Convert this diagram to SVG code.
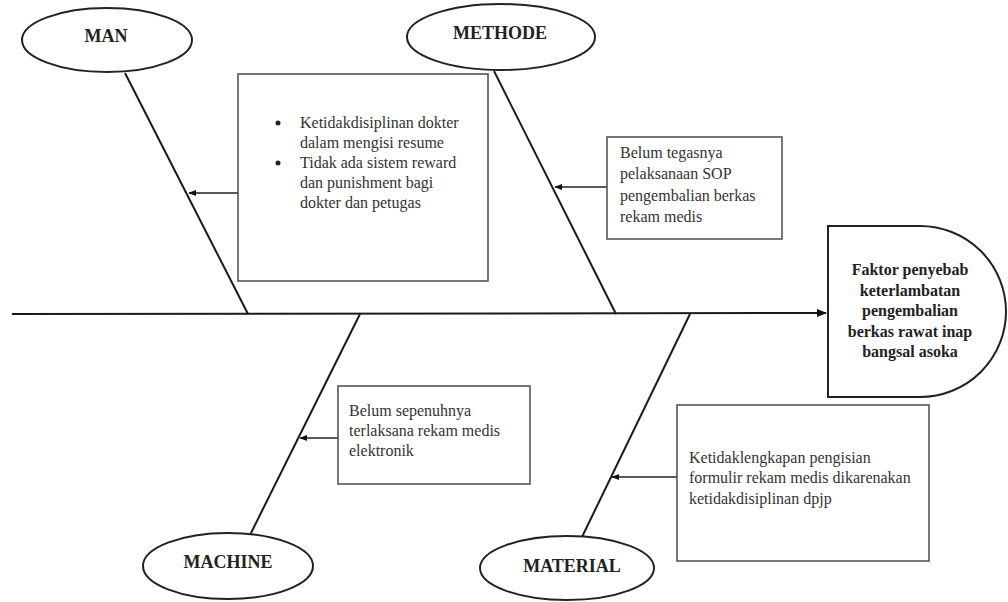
<svg xmlns="http://www.w3.org/2000/svg" width="1008" height="602" viewBox="0 0 1008 602">
<style>
.bone{stroke:#1a1a1a;stroke-width:2;fill:none}
.box{fill:#fff;stroke:#555;stroke-width:1.6}
.ell{fill:#fff;stroke:#222;stroke-width:2}
.lbl{font-family:"Liberation Serif",serif;font-weight:bold;font-size:18px;fill:#222;text-anchor:middle}
.txt{font-family:"Liberation Serif",serif;font-size:16px;fill:#333}
.head{font-family:"Liberation Serif",serif;font-weight:bold;font-size:16px;fill:#222;text-anchor:middle}
.arr{stroke:#222;stroke-width:1.6;fill:none;marker-end:url(#ah)}
</style>
<defs>
<marker id="ah" viewBox="0 0 10 10" refX="9" refY="5" markerWidth="5" markerHeight="5" orient="auto" markerUnits="strokeWidth">
<path d="M0,1 L10,5 L0,9 Z" fill="#111"/>
</marker>
</defs>
<rect width="1008" height="602" fill="#fff"/>
<g id="connectors">
<line class="bone" x1="12" y1="314" x2="826" y2="313" style="marker-end:url(#ah)"/>
<line class="bone" x1="125" y1="73" x2="248" y2="314"/>
<line class="bone" x1="494" y1="71" x2="616" y2="314"/>
<line class="bone" x1="360" y1="314" x2="250" y2="535"/>
<line class="bone" x1="690" y1="314" x2="582" y2="537"/>
<line class="arr" x1="238" y1="193" x2="189" y2="193"/>
<line class="arr" x1="607" y1="187" x2="555" y2="187"/>
<line class="arr" x1="338" y1="438" x2="300" y2="438"/>
<line class="arr" x1="677" y1="477" x2="612" y2="477"/>
</g>
<g id="man">
<ellipse class="ell" cx="107" cy="40" rx="85" ry="32"/>
<text class="lbl" x="106" y="42">MAN</text>
</g>
<g id="man-cause">
<rect class="box" x="238" y="74" width="250" height="207"/>
<circle cx="278" cy="123" r="2.5" fill="#222"/>
<circle cx="278" cy="163" r="2.5" fill="#222"/>
<text class="txt" x="300" y="128">Ketidakdisiplinan dokter</text>
<text class="txt" x="300" y="148">dalam mengisi resume</text>
<text class="txt" x="300" y="168">Tidak ada sistem reward</text>
<text class="txt" x="300" y="188">dan punishment bagi</text>
<text class="txt" x="300" y="208">dokter dan petugas</text>
</g>
<g id="methode">
<ellipse class="ell" cx="501" cy="37" rx="94" ry="33"/>
<text class="lbl" x="500" y="39">METHODE</text>
</g>
<g id="methode-cause">
<rect class="box" x="607" y="137" width="175" height="102"/>
<text class="txt" x="620" y="158">Belum tegasnya</text>
<text class="txt" x="620" y="179">pelaksanaan SOP</text>
<text class="txt" x="620" y="201">pengembalian berkas</text>
<text class="txt" x="620" y="222">rekam medis</text>
</g>
<g id="effect">
<path d="M828,226 L920,226 A86,85.5 0 0 1 920,397 L828,397 Z" fill="#fff" stroke="#222" stroke-width="2"/>
<text class="head" x="910" y="275">Faktor penyebab</text>
<text class="head" x="910" y="296">keterlambatan</text>
<text class="head" x="910" y="316">pengembalian</text>
<text class="head" x="910" y="337">berkas rawat inap</text>
<text class="head" x="910" y="357">bangsal asoka</text>
</g>
<g id="machine">
<ellipse class="ell" cx="228" cy="566" rx="85" ry="33"/>
<text class="lbl" x="228" y="568">MACHINE</text>
</g>
<g id="machine-cause">
<rect class="box" x="338" y="386" width="192" height="98"/>
<text class="txt" x="349" y="416">Belum sepenuhnya</text>
<text class="txt" x="349" y="436">terlaksana rekam medis</text>
<text class="txt" x="349" y="456">elektronik</text>
</g>
<g id="material">
<ellipse class="ell" cx="567" cy="568" rx="87" ry="32"/>
<text class="lbl" x="572" y="572">MATERIAL</text>
</g>
<g id="material-cause">
<rect class="box" x="677" y="405" width="252" height="156"/>
<text class="txt" x="689" y="463">Ketidaklengkapan pengisian</text>
<text class="txt" x="689" y="483">formulir rekam medis dikarenakan</text>
<text class="txt" x="689" y="504">ketidakdisiplinan dpjp</text>
</g>
</svg>
